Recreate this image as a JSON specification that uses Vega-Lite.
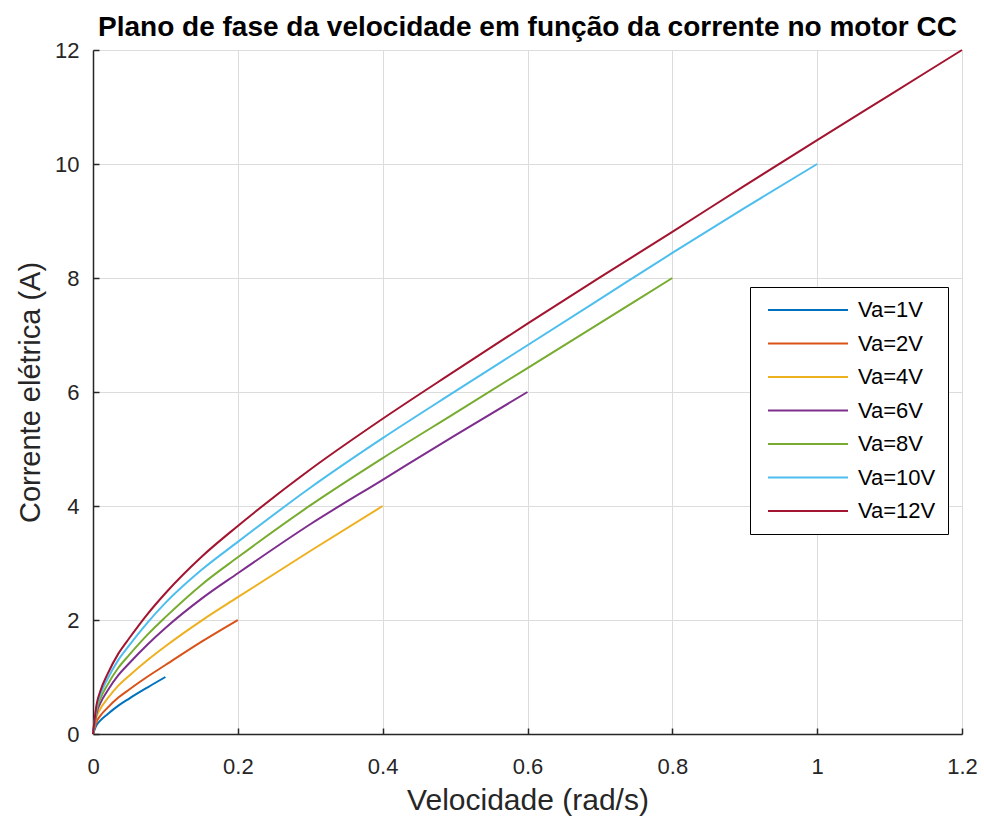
{
  "$schema": "https://vega.github.io/schema/vega-lite/v6.json",
  "width": 869,
  "height": 684,
  "autosize": {"type": "none"},
  "padding": {"left": 93, "top": 50, "right": 22, "bottom": 85},
  "background": "white",
  "title": {
    "text": "Plano de fase da velocidade em função da corrente no motor CC",
    "font": "Liberation Sans",
    "fontSize": 28,
    "fontWeight": "bold",
    "color": "#000000",
    "anchor": "middle",
    "offset": -3
  },
  "data": {
    "values": [
      {"va": "Va=1V", "w": 0, "i": 0},
      {"va": "Va=1V", "w": 0.005, "i": 0.157},
      {"va": "Va=1V", "w": 0.01, "i": 0.234},
      {"va": "Va=1V", "w": 0.02, "i": 0.347},
      {"va": "Va=1V", "w": 0.035, "i": 0.498},
      {"va": "Va=1V", "w": 0.05, "i": 0.622},
      {"va": "Va=1V", "w": 0.075, "i": 0.815},
      {"va": "Va=1V", "w": 0.1, "i": 1.0},

      {"va": "Va=2V", "w": 0, "i": 0},
      {"va": "Va=2V", "w": 0.005, "i": 0.216},
      {"va": "Va=2V", "w": 0.01, "i": 0.318},
      {"va": "Va=2V", "w": 0.02, "i": 0.459},
      {"va": "Va=2V", "w": 0.035, "i": 0.639},
      {"va": "Va=2V", "w": 0.05, "i": 0.781},
      {"va": "Va=2V", "w": 0.075, "i": 1.004},
      {"va": "Va=2V", "w": 0.1, "i": 1.21},
      {"va": "Va=2V", "w": 0.15, "i": 1.62},
      {"va": "Va=2V", "w": 0.2, "i": 2.0},

      {"va": "Va=4V", "w": 0, "i": 0},
      {"va": "Va=4V", "w": 0.005, "i": 0.303},
      {"va": "Va=4V", "w": 0.01, "i": 0.44},
      {"va": "Va=4V", "w": 0.02, "i": 0.623},
      {"va": "Va=4V", "w": 0.035, "i": 0.849},
      {"va": "Va=4V", "w": 0.05, "i": 1.023},
      {"va": "Va=4V", "w": 0.075, "i": 1.294},
      {"va": "Va=4V", "w": 0.1, "i": 1.54},
      {"va": "Va=4V", "w": 0.15, "i": 1.99},
      {"va": "Va=4V", "w": 0.2, "i": 2.4},
      {"va": "Va=4V", "w": 0.3, "i": 3.21},
      {"va": "Va=4V", "w": 0.4, "i": 4.0},

      {"va": "Va=6V", "w": 0, "i": 0},
      {"va": "Va=6V", "w": 0.005, "i": 0.37},
      {"va": "Va=6V", "w": 0.01, "i": 0.537},
      {"va": "Va=6V", "w": 0.02, "i": 0.759},
      {"va": "Va=6V", "w": 0.035, "i": 1.032},
      {"va": "Va=6V", "w": 0.05, "i": 1.242},
      {"va": "Va=6V", "w": 0.075, "i": 1.567},
      {"va": "Va=6V", "w": 0.1, "i": 1.86},
      {"va": "Va=6V", "w": 0.15, "i": 2.375},
      {"va": "Va=6V", "w": 0.2, "i": 2.82},
      {"va": "Va=6V", "w": 0.3, "i": 3.68},
      {"va": "Va=6V", "w": 0.4, "i": 4.46},
      {"va": "Va=6V", "w": 0.5, "i": 5.24},
      {"va": "Va=6V", "w": 0.6, "i": 6.0},

      {"va": "Va=8V", "w": 0, "i": 0},
      {"va": "Va=8V", "w": 0.005, "i": 0.425},
      {"va": "Va=8V", "w": 0.01, "i": 0.614},
      {"va": "Va=8V", "w": 0.02, "i": 0.862},
      {"va": "Va=8V", "w": 0.035, "i": 1.162},
      {"va": "Va=8V", "w": 0.05, "i": 1.388},
      {"va": "Va=8V", "w": 0.075, "i": 1.739},
      {"va": "Va=8V", "w": 0.1, "i": 2.05},
      {"va": "Va=8V", "w": 0.15, "i": 2.62},
      {"va": "Va=8V", "w": 0.2, "i": 3.1},
      {"va": "Va=8V", "w": 0.3, "i": 4.01},
      {"va": "Va=8V", "w": 0.4, "i": 4.84},
      {"va": "Va=8V", "w": 0.5, "i": 5.63},
      {"va": "Va=8V", "w": 0.6, "i": 6.42},
      {"va": "Va=8V", "w": 0.7, "i": 7.21},
      {"va": "Va=8V", "w": 0.8, "i": 8.0},

      {"va": "Va=10V", "w": 0, "i": 0},
      {"va": "Va=10V", "w": 0.005, "i": 0.476},
      {"va": "Va=10V", "w": 0.01, "i": 0.688},
      {"va": "Va=10V", "w": 0.02, "i": 0.965},
      {"va": "Va=10V", "w": 0.035, "i": 1.301},
      {"va": "Va=10V", "w": 0.05, "i": 1.556},
      {"va": "Va=10V", "w": 0.075, "i": 1.951},
      {"va": "Va=10V", "w": 0.1, "i": 2.3},
      {"va": "Va=10V", "w": 0.15, "i": 2.88},
      {"va": "Va=10V", "w": 0.2, "i": 3.37},
      {"va": "Va=10V", "w": 0.3, "i": 4.32},
      {"va": "Va=10V", "w": 0.4, "i": 5.19},
      {"va": "Va=10V", "w": 0.5, "i": 6.01},
      {"va": "Va=10V", "w": 0.6, "i": 6.82},
      {"va": "Va=10V", "w": 0.7, "i": 7.63},
      {"va": "Va=10V", "w": 0.8, "i": 8.44},
      {"va": "Va=10V", "w": 0.9, "i": 9.23},
      {"va": "Va=10V", "w": 1.0, "i": 10.0},

      {"va": "Va=12V", "w": 0, "i": 0},
      {"va": "Va=12V", "w": 0.005, "i": 0.52},
      {"va": "Va=12V", "w": 0.01, "i": 0.75},
      {"va": "Va=12V", "w": 0.02, "i": 1.05},
      {"va": "Va=12V", "w": 0.035, "i": 1.41},
      {"va": "Va=12V", "w": 0.05, "i": 1.68},
      {"va": "Va=12V", "w": 0.075, "i": 2.1},
      {"va": "Va=12V", "w": 0.1, "i": 2.47},
      {"va": "Va=12V", "w": 0.15, "i": 3.11},
      {"va": "Va=12V", "w": 0.2, "i": 3.65},
      {"va": "Va=12V", "w": 0.3, "i": 4.64},
      {"va": "Va=12V", "w": 0.4, "i": 5.53},
      {"va": "Va=12V", "w": 0.5, "i": 6.37},
      {"va": "Va=12V", "w": 0.6, "i": 7.2},
      {"va": "Va=12V", "w": 0.7, "i": 8.01},
      {"va": "Va=12V", "w": 0.8, "i": 8.81},
      {"va": "Va=12V", "w": 0.9, "i": 9.62},
      {"va": "Va=12V", "w": 1.0, "i": 10.42},
      {"va": "Va=12V", "w": 1.1, "i": 11.21},
      {"va": "Va=12V", "w": 1.2, "i": 12.0}
    ]
  },
  "mark": {"type": "line", "interpolate": "monotone", "strokeWidth": 2},
  "encoding": {
    "x": {
      "field": "w",
      "type": "quantitative",
      "scale": {"domain": [0, 1.2], "nice": false, "zero": true},
      "axis": {
        "title": "Velocidade (rad/s)",
        "titleFontSize": 30,
        "values": [0, 0.2, 0.4, 0.6, 0.8, 1, 1.2],
        "format": "~g",
        "labelFlush": false,
        "labelPadding": 28,
        "titlePadding": 8
      }
    },
    "y": {
      "field": "i",
      "type": "quantitative",
      "scale": {"domain": [0, 12], "nice": false},
      "axis": {
        "title": "Corrente elétrica (A)",
        "values": [0, 2, 4, 6, 8, 10, 12],
        "labelFlush": false,
        "labelPadding": 20,
        "titlePadding": 9
      }
    },
    "color": {
      "field": "va",
      "type": "nominal",
      "sort": ["Va=1V", "Va=2V", "Va=4V", "Va=6V", "Va=8V", "Va=10V", "Va=12V"],
      "scale": {
        "domain": ["Va=1V", "Va=2V", "Va=4V", "Va=6V", "Va=8V", "Va=10V", "Va=12V"],
        "range": ["#0072BD", "#D95319", "#EDB120", "#7E2F8E", "#77AC30", "#4DBEEE", "#A2142F"]
      },
      "legend": {
        "title": null,
        "orient": "none",
        "legendX": 657,
        "legendY": 237,
        "symbolType": "M-4,0H4",
        "symbolSize": 400,
        "symbolStrokeWidth": 2,
        "symbolOffset": 35,
        "labelOffset": 39,
        "labelFontSize": 22,
        "labelFont": "Liberation Sans",
        "labelColor": "#000000",
        "rowPadding": 11.5,
        "strokeColor": "#000000",
        "fillColor": "#ffffff",
        "padding": 12
      }
    }
  },
  "config": {
    "view": {"stroke": null},
    "axis": {
      "labelFont": "Liberation Sans",
      "labelFontSize": 22,
      "labelColor": "#262626",
      "titleFont": "Liberation Sans",
      "titleFontSize": 29,
      "titleFontWeight": "normal",
      "titleColor": "#262626",
      "domainColor": "#262626",
      "domainWidth": 1.5,
      "tickColor": "#262626",
      "tickSize": -6,
      "tickWidth": 1.5,
      "gridColor": "#dcdcdc",
      "gridWidth": 1
    }
  }
}
